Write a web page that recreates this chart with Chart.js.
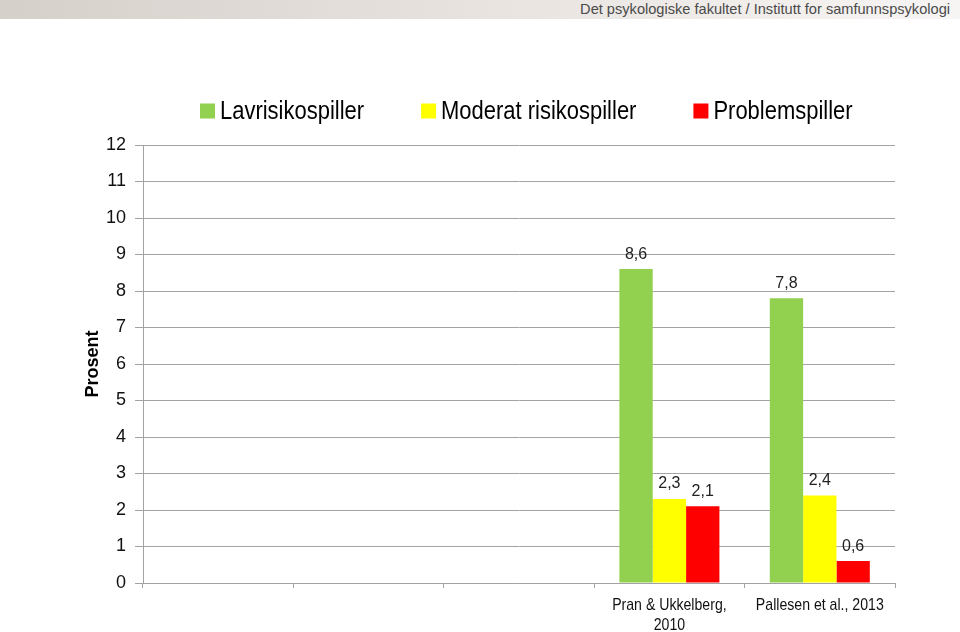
<!DOCTYPE html>
<html>
<head>
<meta charset="utf-8">
<script src="https://cdn.jsdelivr.net/npm/chart.js@4.4.1/dist/chart.umd.min.js"></script>
<style>
  html, body { margin: 0; padding: 0; background: #fff; overflow: hidden; }
  #wrap { position: relative; width: 960px; height: 632px; }
  #banner {
    position: absolute; left: 0; top: 0; width: 960px; height: 19px;
    background: linear-gradient(to right, #d6d0ca 0%, #e6e1dd 45%, #f7f5f4 100%);
    font: 14.6px "Liberation Sans", Arial, sans-serif;
    color: #4a4a4a; text-align: right; line-height: 19px;
    box-sizing: border-box; padding-right: 10px; z-index: 2;
  }
  canvas { position: absolute; left: 0; top: 0; }
</style>
</head>
<body>
<div id="wrap">
  <div id="banner">Det psykologiske fakultet / Institutt for samfunnspsykologi</div>
  <canvas id="chart" width="960" height="632"></canvas>
</div>
<script>
/* ===============================
   DATA
================================= */

const categories = ["", "", "", ["Pran & Ukkelberg,", "2010"], "Pallesen et al., 2013"];
const seriesNames = ["Lavrisikospiller", "Moderat risikospiller", "Problemspiller"];
const lowRisk = [null, null, null, 8.6, 7.8];
const moderateRisk = [null, null, null, 2.3, 2.4];
const problemGamblers = [null, null, null, 2.1, 0.6];
const seriesColors = ["#92d050", "#ffff00", "#ff0000"];
const yMin = 0;
const yMax = 12;
const yStep = 1;

const REGULAR = '"Liberation Sans", Arial, sans-serif';
const GRID = "#a3a3a3";
// no narrow font installed, so squeeze regular text sideways
const NARROW_X = 0.845;

/* ===============================
   PLUGINS
================================= */

// legend drawn by hand: box, small gap, text, wide gap
const topLegend = {
  id: "topLegend",
  afterDraw(chart) {
    const { ctx, chartArea } = chart;
    ctx.save();
    ctx.font = "26px " + REGULAR;
    ctx.textBaseline = "middle";
    let x = chartArea.left + 57;
    const y = chartArea.top - 34;
    chart.data.datasets.forEach(ds => {
      ctx.fillStyle = ds.backgroundColor;
      ctx.fillRect(x, y - 7.5, 15, 15);
      ctx.fillStyle = "#000";
      ctx.save();
      ctx.translate(x + 20, y + 1);
      ctx.scale(NARROW_X, 1);
      ctx.fillText(ds.label, 0, 0);
      ctx.restore();
      x += 20 + ctx.measureText(ds.label).width * NARROW_X + 57;
    });
    ctx.restore();
  }
};

// category labels under the x axis, narrow like the original
const narrowXLabels = {
  id: "narrowXLabels",
  afterDraw(chart) {
    const { ctx } = chart;
    const scale = chart.scales.x;
    ctx.save();
    ctx.font = "17px " + REGULAR;
    ctx.fillStyle = "#111";
    ctx.textAlign = "center";
    ctx.textBaseline = "middle";
    chart.data.labels.forEach((label, i) => {
      const x = scale.getPixelForTick(i);
      [].concat(label).forEach((line, k) => {
        ctx.save();
        ctx.translate(x, scale.top + 22 + k * 20);
        ctx.scale(0.83, 1);
        ctx.fillText(line, 0, 0);
        ctx.restore();
      });
    });
    ctx.restore();
  }
};

// values above the bars, with decimal comma
const valueLabels = {
  id: "valueLabels",
  afterDatasetsDraw(chart) {
    const { ctx } = chart;
    ctx.save();
    ctx.font = "16px " + REGULAR;
    ctx.fillStyle = "#222";
    ctx.textAlign = "center";
    ctx.textBaseline = "middle";
    chart.data.datasets.forEach((ds, i) => {
      chart.getDatasetMeta(i).data.forEach((bar, j) => {
        const v = ds.data[j];
        if (v == null) return;
        ctx.fillText(v.toFixed(1).replace(".", ","), bar.x, bar.y - 15);
      });
    });
    ctx.restore();
  }
};

/* ===============================
   CHART
================================= */

const seriesValues = [lowRisk, moderateRisk, problemGamblers];

new Chart(document.getElementById("chart"), {
  type: "bar",
  data: {
    labels: categories,
    datasets: seriesNames.map((name, i) => ({
      label: name,
      data: seriesValues[i],
      backgroundColor: seriesColors[i],
      barPercentage: 1,
      categoryPercentage: 0.665
    }))
  },
  options: {
    responsive: false,
    animation: false,
    layout: { padding: { left: 82, right: 65, top: 145, bottom: 0 } },
    plugins: {
      legend: { display: false },
      tooltip: { enabled: false }
    },
    scales: {
      x: {
        grid: { drawOnChartArea: false, drawTicks: true, tickLength: 5, color: GRID, offset: true },
        border: { color: GRID },
        ticks: { display: false, autoSkip: false },
        afterFit(scale) { scale.height = 49; }
      },
      y: {
        min: yMin,
        max: yMax,
        ticks: { stepSize: yStep, font: { size: 18, family: REGULAR }, color: "#111", padding: 9 },
        grid: { color: GRID, tickLength: 8 },
        border: { color: GRID },
        title: { display: true, text: "Prosent", font: { size: 18, weight: "bold", family: REGULAR }, color: "#000", padding: 0 },
        afterFit(scale) { scale.width = 61; }
      }
    }
  },
  plugins: [topLegend, narrowXLabels, valueLabels]
});
</script>
</body>
</html>
